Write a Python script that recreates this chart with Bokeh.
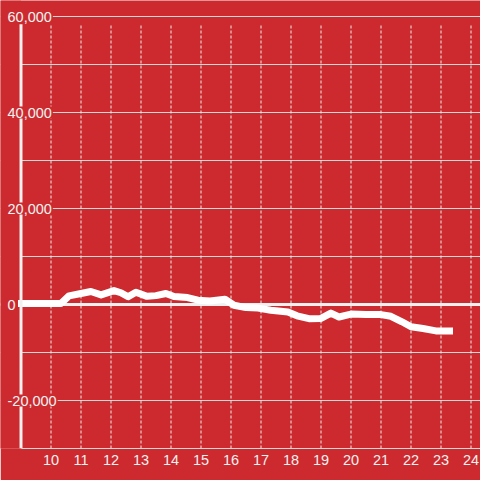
from bokeh.plotting import figure
from bokeh.models import Range1d, FixedTicker, Span, Label, BoxAnnotation
from bokeh.embed import file_html
from bokeh.resources import INLINE

# data
hours = [8.9, 9.5, 10.0, 10.33, 10.6, 11.0, 11.33, 11.67, 12.1, 12.33, 12.57, 12.83,
         13.2, 13.5, 13.83, 14.1, 14.55, 14.9, 15.3, 15.8, 16.1, 16.5, 16.9, 17.33,
         17.9, 18.2, 18.6, 19.0, 19.33, 19.6, 20.0, 20.5, 21.0, 21.33, 21.7, 22.0,
         22.4, 22.83, 23.4]
values = [200, 200, 200, 200, 1800, 2300, 2700, 2000, 2900, 2450, 1600, 2550,
          1700, 1850, 2300, 1650, 1450, 900, 750, 1100, -150, -650, -750, -1200,
          -1550, -2350, -2950, -2900, -1800, -2600, -2000, -2100, -2100, -2450, -3600, -4650,
          -5000, -5500, -5500]
x_ticks = list(range(10, 25))
y_grid = [-30000, -20000, -10000, 0, 10000, 20000, 30000, 40000, 50000, 60000]
y_label_values = [-20000, 0, 20000, 40000, 60000]
y_label_texts = ["{:,}".format(v) for v in y_label_values]

X0 = 9            # where the y axis sits
Y_BOTTOM = -30000
Y_GRID_TOP = 58400

RED = "#cc2a2f"
FONT = "Liberation Sans"
LIGHT = "#f2f2f2"

p = figure(width=480, height=480, output_backend="svg", toolbar_location=None,
           title=None,
           x_range=Range1d(X0 - 20.5 / 30.0, X0 + 459.5 / 30.0),
           y_range=Range1d(Y_BOTTOM, Y_BOTTOM + 448 / 0.0048),
           min_border_left=0, min_border_right=0, min_border_top=0, min_border_bottom=32)
p.background_fill_color = RED
p.border_fill_color = RED
p.outline_line_color = None

p.yaxis.visible = False
p.xaxis.ticker = FixedTicker(ticks=x_ticks)
p.xaxis.bounds = (X0, X0 + 459.5 / 30.0)
p.xaxis.major_tick_out = 0
p.xaxis.major_tick_in = 0
p.xaxis.minor_tick_out = 0
p.xaxis.minor_tick_in = 0
p.xaxis.axis_line_color = "#d8d8d8"
p.xaxis.axis_line_width = 1
p.xaxis.major_label_standoff = 6
p.xaxis.major_label_text_color = LIGHT
p.xaxis.major_label_text_font = FONT
p.xaxis.major_label_text_font_size = "14.5px"

p.ygrid.ticker = FixedTicker(ticks=y_grid)
p.ygrid.grid_line_color = "#d8d8d8"
p.ygrid.grid_line_width = 1
p.xgrid.visible = False

zero = Span(location=0, dimension="width", line_color="#f0f0f0", line_width=3, level="underlay")
p.add_layout(zero)
# hide grid lines left of the y axis
p.add_layout(BoxAnnotation(right=X0, fill_color=RED, fill_alpha=1, line_color=None, level="underlay"))

# dashed vertical grid lines at the x ticks
p.segment(x0=x_ticks, y0=[Y_BOTTOM] * len(x_ticks), x1=x_ticks, y1=[Y_GRID_TOP] * len(x_ticks),
          line_color="#eeeeee", line_width=1, line_dash="3 2")

p.line(hours, values, line_color="white", line_width=7, line_join="round", line_cap="butt")

# y axis line
p.segment(x0=[X0], y0=[Y_BOTTOM], x1=[X0], y1=[Y_GRID_TOP], line_color="#f0f0f0", line_width=3)

for v, t in zip(y_label_values, y_label_texts):
    lab = Label(x=X0, y=v, x_offset=6 - 20.5, text=t,
                text_align="left", text_baseline="middle",
                text_color=LIGHT, text_font=FONT, text_font_size="14.5px",
                background_fill_color=RED, padding=1)
    p.add_layout(lab)

open("out.html", "w").write(file_html(p, INLINE))
